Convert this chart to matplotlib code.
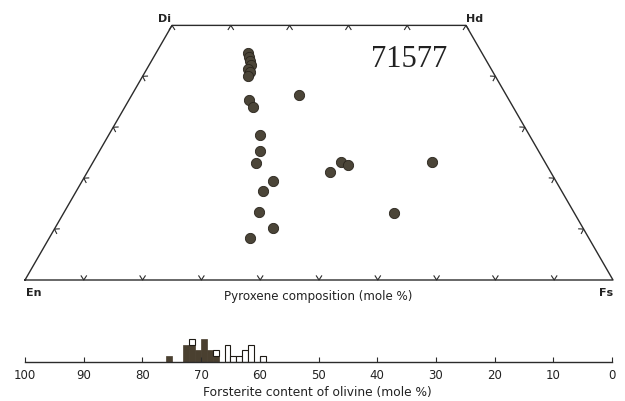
import numpy as np
import matplotlib
matplotlib.use("Agg")
import matplotlib.pyplot as plt

px_fs = [15.6, 16.2, 16.8, 17.3, 17.2, 17.9, 17.8, 28.4, 20.4, 21.8, 25.8, 27.4,
         27.8, 32.5, 31.8, 33.1, 37.1, 34.2, 41.3, 42.1, 43.6, 57.6, 56.2]
px_wo = [44.6, 43.8, 43.0, 42.2, 41.4, 40.8, 40.1, 36.3, 35.3, 34.0, 28.5, 25.3,
         23.0, 19.4, 17.5, 13.4, 10.2, 8.2, 21.2, 23.2, 22.6, 23.2, 13.2]

# Olivine histogram: upper Fo edge of each 1 mole % bin, filled and open counts
ol_fo = [76, 73, 72, 71, 70, 69, 68, 66, 65, 64, 63, 62, 60]
ol_filled = [1, 3, 3, 2, 4, 2, 1, 0, 0, 0, 0, 0, 0]
ol_open = [0, 0, 1, 0, 0, 0, 1, 3, 1, 1, 2, 3, 1]

line_col = '#2b2b2b'
dot_col = '#4b4538'
h = np.sqrt(3) / 2


def tern(fs, wo):
    fs = np.asarray(fs, dtype=float)
    wo = np.asarray(wo, dtype=float)
    return fs + wo / 2, wo * h


fig = plt.figure(figsize=(6.25, 4.02), dpi=100)

# quadrilateral axes, 5.88 px per mole %
ax = fig.add_axes([25 / 625, (402 - 281) / 402, 588 / 625, 261 / 402])
ax.set_xlim(0, 100)
ax.set_ylim(0, 261 / 5.88)
ax.axis('off')

cx, cy = tern([0, 100, 50, 0, 0], [0, 0, 50, 50, 0])
ax.plot(cx, cy, color=line_col, lw=1.0, clip_on=False)

# chevron ticks, apex on the edge, arms pointing inside
def chevron(fs, wo, nx, ny):
    x0, y0 = tern(fs, wo)
    d, w = 0.7, 0.45
    tx, ty = -ny, nx
    xs = [x0 + d * nx + w * tx, x0, x0 + d * nx - w * tx]
    ys = [y0 + d * ny + w * ty, y0, y0 + d * ny - w * ty]
    ax.plot(xs, ys, color=line_col, lw=0.8, clip_on=False)

for v in range(10, 100, 10):
    chevron(v, 0, 0, 1)
for v in range(0, 60, 10):
    chevron(v, 50, 0, -1)
for v in range(10, 50, 10):
    chevron(0, v, h, -0.5)
    chevron(100 - v, v, -h, -0.5)

x, y = tern(px_fs, px_wo)
ax.plot(x, y, 'o', ms=7.4, mfc=dot_col, mec='#2a251d', mew=0.6, clip_on=False)

lab = dict(fontsize=8, fontweight='bold', color='#222222', ha='center', va='center')
ax.text(1.5, -2.0, 'En', **lab)
ax.text(98.9, -2.0, 'Fs', **lab)
ax.text(23.8, 44.6, 'Di', **lab)
ax.text(76.5, 44.6, 'Hd', **lab)
ax.text(49.8, -2.7, 'Pyroxene composition (mole %)', fontsize=8.6,
        color='#222222', ha='center', va='center')
ax.text(65.3, 37.6, '71577', fontsize=22, family='Liberation Serif',
        color='#222222', ha='center', va='center')

# olivine histogram
hx = fig.add_axes([25 / 625, (402 - 362.5) / 402, 587 / 625, 6 * 5.6 / 402])
hx.set_xlim(100, 0)
hx.set_ylim(0, 6)
for s in ['top', 'left', 'right']:
    hx.spines[s].set_visible(False)
hx.spines['bottom'].set_color(line_col)
hx.spines['bottom'].set_linewidth(1.0)
hx.set_yticks([])
hx.set_xticks(range(0, 101, 10))
hx.set_xticklabels([str(v) for v in range(0, 101, 10)])
hx.tick_params(axis='x', direction='in', length=3.5, width=0.8, pad=5,
               labelsize=8.5, colors=line_col, labelcolor='#222222')
hx.patch.set_alpha(0)

fo = np.array(ol_fo) - 0.5
filled = np.array(ol_filled)
opn = np.array(ol_open)
m = filled > 0
hx.bar(fo[m], filled[m], width=1.0, color='#4a4030', edgecolor='#4a4030', lw=0.5)
m = opn > 0
hx.bar(fo[m], opn[m], width=1.0, bottom=filled[m], color='white',
       edgecolor='#1e1a14', lw=0.8)

fig.text(317 / 625, 1 - 393 / 402, 'Forsterite content of olivine (mole %)',
         fontsize=8.8, color='#222222', ha='center', va='center')

fig.savefig('out.png', dpi=100, facecolor='white')
